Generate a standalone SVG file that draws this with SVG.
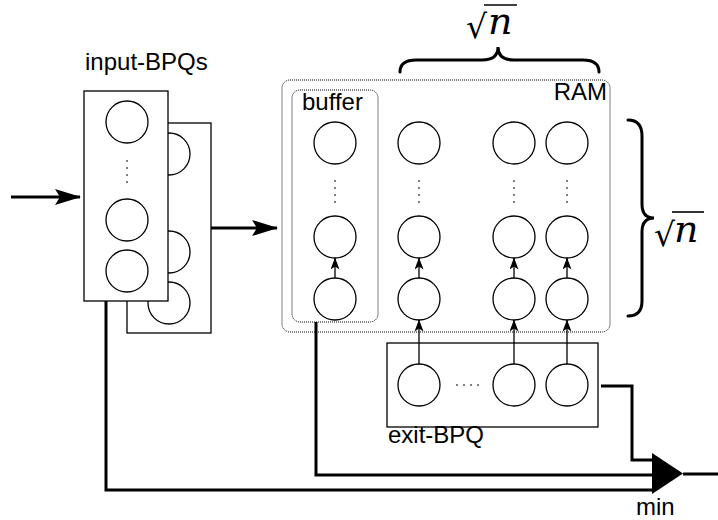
<svg xmlns="http://www.w3.org/2000/svg" width="718" height="520" viewBox="0 0 718 520">
<style>
.box{fill:#fff;stroke:#000;stroke-width:1.3}
.c{fill:#fff;stroke:#000;stroke-width:1.3}
.dash{fill:none;stroke:#000;stroke-width:1;stroke-dasharray:1 1}
.dots{fill:none;stroke:#000;stroke-width:1;stroke-dasharray:2 5}
.thick{fill:none;stroke:#000;stroke-width:3}
.thin{fill:none;stroke:#000;stroke-width:1.3}
.lbl{font-family:"Liberation Sans",Arial,sans-serif;font-size:24px;fill:#000}
.math{font-family:"DejaVu Serif",serif;fill:#000}
.brace{fill:none;stroke:#000;stroke-width:3;stroke-linecap:round}
</style>
<defs>
<marker id="big" markerUnits="userSpaceOnUse" viewBox="0 0 26 16" markerWidth="26" markerHeight="16" refX="25" refY="8" orient="auto"><path d="M0,0 L26,8 L0,16 L5,8 Z" fill="#000"/></marker>
<marker id="small" markerUnits="userSpaceOnUse" viewBox="0 0 12 9" markerWidth="12" markerHeight="9" refX="11.5" refY="4.5" orient="auto"><path d="M0,0 L12,4.5 L0,9 L3,4.5 Z" fill="#000"/></marker>
</defs>

<g id="input-bpqs">
<rect class="box" x="127" y="123" width="84" height="210"/>
<circle class="c" cx="169" cy="154" r="21"/>
<circle class="c" cx="169" cy="252" r="21"/>
<circle class="c" cx="169" cy="303" r="21"/>
<rect class="box" x="84" y="91" width="84" height="210"/>
<circle class="c" cx="127" cy="122" r="21"/>
<line class="dots" x1="127" y1="160" x2="127" y2="186"/>
<circle class="c" cx="127" cy="220" r="21"/>
<circle class="c" cx="127" cy="271" r="21"/>
<text class="lbl" x="85" y="70">input-BPQs</text>
</g>

<g id="ram">
<rect class="dash" x="282" y="80" width="328" height="252" rx="8"/>
<text class="lbl" x="607" y="100" text-anchor="end">RAM</text>
</g>

<g id="buffer">
<rect class="dash" x="292" y="90" width="86" height="232" rx="8"/>
<text class="lbl" x="302" y="110">buffer</text>
<circle class="c" cx="335" cy="143" r="21"/>
<line class="dots" x1="335" y1="180" x2="335" y2="207"/>
<circle class="c" cx="335" cy="237" r="21"/>
<circle class="c" cx="335" cy="299" r="21"/>
</g>

<g id="col2">
<circle class="c" cx="419" cy="143" r="21"/>
<line class="dots" x1="419" y1="180" x2="419" y2="207"/>
<circle class="c" cx="419" cy="237" r="21"/>
<circle class="c" cx="419" cy="299" r="21"/>
</g>
<g id="col3">
<circle class="c" cx="514" cy="143" r="21"/>
<line class="dots" x1="514" y1="180" x2="514" y2="207"/>
<circle class="c" cx="514" cy="237" r="21"/>
<circle class="c" cx="514" cy="299" r="21"/>
</g>
<g id="col4">
<circle class="c" cx="567" cy="143" r="21"/>
<line class="dots" x1="567" y1="180" x2="567" y2="207"/>
<circle class="c" cx="567" cy="237" r="21"/>
<circle class="c" cx="567" cy="299" r="21"/>
</g>

<g id="exit-bpq">
<rect class="box" x="387" y="343" width="211" height="84"/>
<circle class="c" cx="419" cy="385" r="21"/>
<line class="dots" x1="456" y1="385" x2="484" y2="385"/>
<circle class="c" cx="514" cy="385" r="21"/>
<circle class="c" cx="567" cy="385" r="21"/>
<text class="lbl" x="388" y="443">exit-BPQ</text>
</g>

<g id="min">
<polygon points="652,453 652,494 683,473.5" fill="#000"/>
<text class="lbl" x="636" y="515">min</text>
</g>

<g id="size-top">
<path class="brace" d="M400,72 Q400,60 416,60 L482,60 Q498,60 498,47 Q498,60 514,60 L583,60 Q599,60 599,72"/>
<text class="math" x="466" y="38" font-size="33">√</text>
<line x1="484" y1="5" x2="517" y2="5" stroke="#000" stroke-width="1.6"/>
<text class="math" x="488" y="34" font-size="38" font-style="italic">n</text>
</g>

<g id="size-right">
<path class="brace" d="M628,120 Q642,120 642,136 L642,204 Q642,218 654,218 Q642,218 642,232 L642,301 Q642,316 628,316"/>
<text class="math" x="654" y="246" font-size="33">√</text>
<line x1="672" y1="212" x2="704" y2="212" stroke="#000" stroke-width="1.6"/>
<text class="math" x="674" y="242" font-size="38" font-style="italic">n</text>
</g>

<g id="connectors">
<line class="thick" x1="11" y1="197" x2="80" y2="197" marker-end="url(#big)"/>
<line class="thick" x1="211" y1="228" x2="277" y2="228" marker-end="url(#big)"/>
<line class="thin" x1="335" y1="278" x2="335" y2="258" marker-end="url(#small)"/>
<line class="thin" x1="419" y1="278" x2="419" y2="258" marker-end="url(#small)"/>
<line class="thin" x1="514" y1="278" x2="514" y2="258" marker-end="url(#small)"/>
<line class="thin" x1="567" y1="278" x2="567" y2="258" marker-end="url(#small)"/>
<line class="thin" x1="419" y1="364" x2="419" y2="320" marker-end="url(#small)"/>
<line class="thin" x1="514" y1="364" x2="514" y2="320" marker-end="url(#small)"/>
<line class="thin" x1="567" y1="364" x2="567" y2="320" marker-end="url(#small)"/>
<path class="thick" d="M106,301 L106,490 L652,490"/>
<path class="thick" d="M316,322 L316,475 L652,475"/>
<path class="thick" d="M601,386 L632,386 L632,460 L652,460"/>
<line class="thick" x1="683" y1="474" x2="718" y2="474"/>
</g>
</svg>
